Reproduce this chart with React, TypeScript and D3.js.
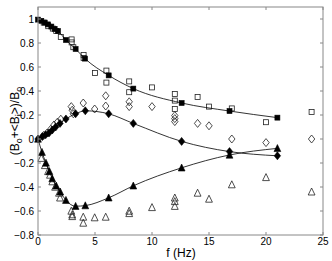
import React from "react";
import * as d3 from "d3";

const xTicks = [0, 5, 10, 15, 20, 25];
const yTicks = [-0.8, -0.6, -0.4, -0.2, 0, 0.2, 0.4, 0.6, 0.8, 1];
const yTickLabels = ["\u22120.8", "\u22120.6", "\u22120.4", "\u22120.2", "0", "0.2", "0.4", "0.6", "0.8", "1"];

const sqFilledF = [0, 0.29, 0.59, 0.88, 1.17, 1.46, 1.75, 2.45, 3.3, 4.12, 6.2, 8.36, 12.6, 16.8, 21.0];
const sqFilledV = [0.995, 0.985, 0.97, 0.955, 0.937, 0.918, 0.9, 0.825, 0.75, 0.67, 0.53, 0.42, 0.3, 0.233, 0.178];

const diFilledF = [0, 0.38, 0.67, 0.96, 1.25, 1.55, 1.93, 2.45, 3.3, 4.15, 6.2, 8.36, 12.6, 16.8, 21.0];
const diFilledV = [0, 0.02, 0.035, 0.05, 0.075, 0.1, 0.13, 0.167, 0.21, 0.235, 0.21, 0.13, -0.02, -0.105, -0.14];

const trFilledF = [0, 0.35, 0.7, 1.0, 1.25, 1.6, 1.95, 2.45, 3.3, 4.15, 6.2, 8.36, 12.6, 16.8, 21.0];
const trFilledV = [0, -0.11, -0.2, -0.27, -0.33, -0.39, -0.44, -0.51, -0.56, -0.555, -0.49, -0.39, -0.24, -0.133, -0.078];

const sqOpenF = [0.5, 0.9, 1.3, 1.6, 2.0, 2.95, 2.95, 3.1, 4.0, 4.0, 5.0, 6.0, 6.0, 8.0, 8.0, 10.0, 12.0, 12.0, 12.0, 14.0, 15.0, 17.0, 20.0, 24.0];
const sqOpenV = [0.97, 0.94, 0.92, 0.9, 0.85, 0.83, 0.805, 0.765, 0.7, 0.675, 0.55, 0.57, 0.47, 0.48, 0.39, 0.43, 0.375, 0.32, 0.25, 0.35, 0.27, 0.255, 0.14, 0.225];

const diOpenF = [0.5, 0.8, 1.1, 1.4, 1.7, 2.0, 2.92, 3.0, 3.1, 3.97, 4.97, 5.94, 5.94, 8.0, 8.0, 10.0, 12.0, 12.0, 12.0, 14.0, 15.0, 17.0, 20.0, 24.0];
const diOpenV = [0.03, 0.05, 0.08, 0.117, 0.14, 0.165, 0.27, 0.24, 0.21, 0.3, 0.25, 0.36, 0.275, 0.31, 0.27, 0.27, 0.195, 0.17, 0.145, 0.13, 0.11, 0.0, -0.03, 0.0];

const trOpenF = [0.29, 0.6, 0.88, 1.05, 1.25, 1.5, 1.84, 1.93, 2.92, 3.0, 3.0, 3.97, 3.97, 4.97, 5.94, 8.0, 8.0, 10.0, 12.0, 12.0, 12.0, 14.0, 15.0, 17.0, 20.0, 24.0];
const trOpenV = [-0.16, -0.22, -0.27, -0.3, -0.355, -0.4, -0.45, -0.49, -0.6, -0.63, -0.645, -0.65, -0.7, -0.655, -0.65, -0.6, -0.62, -0.57, -0.49, -0.52, -0.56, -0.45, -0.5, -0.38, -0.32, -0.44];

const W = 332, H = 261;
const L = 38, R = 323, T = 7, B = 235;
const x = d3.scaleLinear().domain([0, 25]).range([L, R]);
const y = d3.scaleLinear().domain([-0.8, 1.1]).range([B, T]);
const axisColor = "#888";
const font = "'Liberation Sans', Arial, Helvetica, sans-serif";

const line = d3.line<[number, number]>().x(d => x(d[0])).y(d => y(d[1])).curve(d3.curveMonotoneX);

const zip = (f: number[], v: number[]) => f.map((ff, i) => [ff, v[i]] as [number, number]);

function Marker({ type, cx, cy, filled }: { type: string; cx: number; cy: number; filled: boolean }) {
  const fill = filled ? "#000" : "none";
  const stroke = filled ? "#000" : "#222";
  if (type === "sq") {
    const s = filled ? 5 : 5;
    return <rect x={cx - s / 2} y={cy - s / 2} width={s} height={s} fill={fill} stroke={stroke} strokeWidth={filled ? 0.6 : 0.8} />;
  }
  if (type === "di") {
    const w = 3.2, h = 4;
    return <path d={`M${cx},${cy - h}L${cx + w},${cy}L${cx},${cy + h}L${cx - w},${cy}Z`} fill={fill} stroke={stroke} strokeWidth={filled ? 0.6 : 0.8} />;
  }
  const w = 3.4, h = 3.2;
  return <path d={`M${cx},${cy - h - 0.6}L${cx + w},${cy + h}L${cx - w},${cy + h}Z`} fill={fill} stroke={stroke} strokeWidth={filled ? 0.6 : 0.8} />;
}

export default function App() {
  const filled = [
    { t: "sq", d: zip(sqFilledF, sqFilledV) },
    { t: "di", d: zip(diFilledF, diFilledV) },
    { t: "tr", d: zip(trFilledF, trFilledV) },
  ];
  const open = [
    { t: "sq", d: zip(sqOpenF, sqOpenV) },
    { t: "di", d: zip(diOpenF, diOpenV) },
    { t: "tr", d: zip(trOpenF, trOpenV) },
  ];
  return (
    <svg width={W} height={H} style={{ position: "absolute", left: 0, top: 0, background: "#fff" }} fontFamily={font}>
      <rect x={0} y={0} width={W} height={H} fill="#fff" />
      {/* open markers */}
      {open.map((s, i) => s.d.map((p, j) => <Marker key={`o${i}-${j}`} type={s.t} cx={x(p[0])} cy={y(p[1])} filled={false} />))}
      {/* lines */}
      {filled.map((s, i) => <path key={`l${i}`} d={line(s.d) || ""} fill="none" stroke="#000" strokeWidth={0.8} />)}
      {filled.map((s, i) => s.d.map((p, j) => <Marker key={`f${i}-${j}`} type={s.t} cx={x(p[0])} cy={y(p[1])} filled={true} />))}
      {/* box */}
      <rect x={L} y={T} width={R - L} height={B - T} fill="none" stroke={axisColor} strokeWidth={1} />
      {xTicks.map(t => (
        <g key={`xt${t}`}>
          <line x1={x(t)} x2={x(t)} y1={B} y2={B - 3} stroke={axisColor} />
          <line x1={x(t)} x2={x(t)} y1={T} y2={T + 3} stroke={axisColor} />
          <text x={x(t)} y={244.5} fontSize={10} textAnchor="middle" fill="#000">{t}</text>
        </g>
      ))}
      {yTicks.map((t, i) => (
        <g key={`yt${i}`}>
          <line x1={L} x2={L + 3} y1={y(t)} y2={y(t)} stroke={axisColor} />
          <line x1={R} x2={R - 3} y1={y(t)} y2={y(t)} stroke={axisColor} />
          <text x={34} y={y(t) + 3.5} fontSize={10} textAnchor="end" fill="#000">{yTickLabels[i]}</text>
        </g>
      ))}
      <text x={181} y={256.5} fontSize={12} textAnchor="middle" fill="#000">f (Hz)</text>
      <text transform={`translate(19,${(T + B) / 2}) rotate(-90)`} fontSize={12} textAnchor="middle" fill="#000">
        <tspan>(B</tspan>
        <tspan fontSize={9} dy={3}>o</tspan>
        <tspan dy={-3}>+&lt;B</tspan>
        <tspan fontSize={9} dy={3}>i</tspan>
        <tspan dy={-3}>&gt;)/B</tspan>
        <tspan fontSize={9} dy={3}>o</tspan>
      </text>
    </svg>
  );
}
